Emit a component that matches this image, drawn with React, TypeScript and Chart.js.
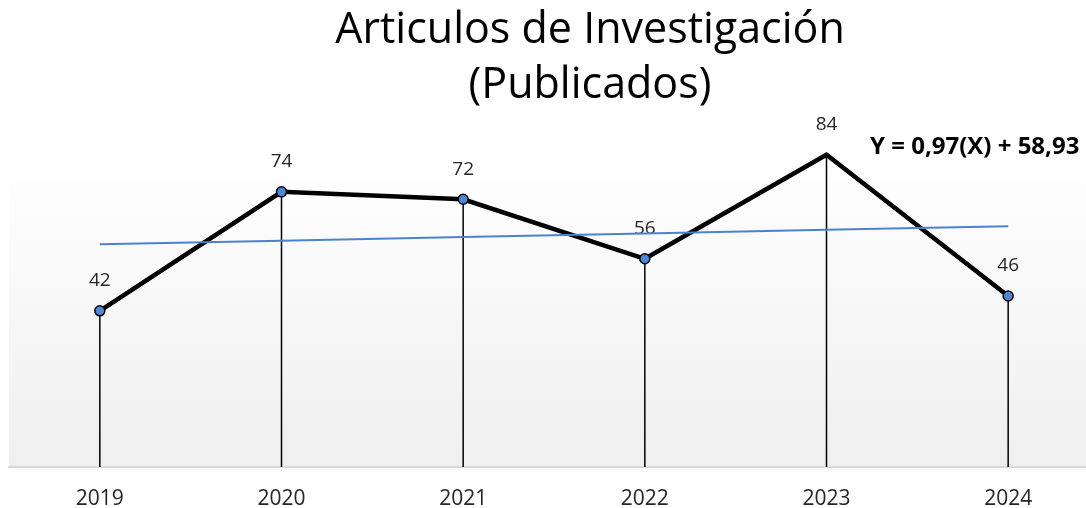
import React, { useEffect, useRef } from "react";
import { Chart, registerables } from "chart.js";

Chart.register(...registerables);

const YEARS = ["2019", "2020", "2021", "2022", "2023", "2024"];
const ARTICLES = [42, 74, 72, 56, 84, 46];
const TREND = [59.9, 60.87, 61.84, 62.81, 63.78, 64.75];
const TITLE_LINES = ["Articulos de Investigación", "(Publicados)"];
const EQUATION = "Y = 0,97(X) + 58,93";
const Y_MIN = 0;
const Y_MAX = 78;

const FONT = "'Open Sans', 'Noto Sans', sans-serif";
const CANVAS_W = 1180;
const CANVAS_H = 508;

const bgPlugin = {
  id: "bgGradient",
  beforeDraw(chart: any) {
    const { ctx, chartArea } = chart;
    const g = ctx.createLinearGradient(0, chartArea.top, 0, chartArea.bottom);
    g.addColorStop(0, "#fefefe");
    g.addColorStop(1, "#efefef");
    ctx.save();
    ctx.fillStyle = g;
    ctx.fillRect(chartArea.left, chartArea.top, chartArea.right - chartArea.left, chartArea.bottom - chartArea.top);
    ctx.restore();
  },
};

const dropLinesPlugin = {
  id: "dropLines",
  beforeDatasetsDraw(chart: any) {
    const { ctx, chartArea } = chart;
    const meta = chart.getDatasetMeta(0);
    ctx.save();
    ctx.strokeStyle = "#000000";
    ctx.lineWidth = 1.5;
    meta.data.forEach((pt: any) => {
      ctx.beginPath();
      ctx.moveTo(pt.x, pt.y);
      ctx.lineTo(pt.x, chartArea.bottom);
      ctx.stroke();
    });
    ctx.restore();
  },
};

const labelsPlugin = {
  id: "pointLabels",
  afterDatasetDraw(chart: any, args: any) {
    if (args.index !== 0) return;
    const { ctx } = chart;
    const meta = chart.getDatasetMeta(0);
    ctx.save();
    ctx.fillStyle = "#262626";
    ctx.font = `19px ${FONT}`;
    ctx.textAlign = "center";
    ctx.textBaseline = "middle";
    meta.data.forEach((pt: any, i: number) => {
      ctx.fillText(String(ARTICLES[i]), pt.x, pt.y - 30);
    });
    ctx.restore();
  },
};

const textPlugin = {
  id: "titleAndEquation",
  afterDraw(chart: any) {
    const { ctx, width } = chart;
    ctx.save();
    ctx.fillStyle = "#000000";
    ctx.textAlign = "center";
    ctx.textBaseline = "alphabetic";
    ctx.font = `43px ${FONT}`;
    ctx.fillText(TITLE_LINES[0], width / 2, 43);
    ctx.fillText(TITLE_LINES[1], width / 2, 98);
    ctx.font = `bold 24px ${FONT}`;
    ctx.textAlign = "left";
    ctx.textBaseline = "middle";
    ctx.fillText(EQUATION, 870, 147);
    ctx.restore();
  },
};

export default function App() {
  const ref = useRef<HTMLCanvasElement | null>(null);

  useEffect(() => {
    if (!ref.current) return;
    const chart = new Chart(ref.current, {
      type: "line",
      data: {
        labels: YEARS,
        datasets: [
          {
            label: "Articulos",
            data: ARTICLES,
            borderColor: "#000000",
            borderWidth: 4.5,
            pointRadius: 5,
            pointBackgroundColor: "#4f86d6",
            pointBorderColor: "#000000",
            pointBorderWidth: 1.5,
            tension: 0,
            clip: false as any,
            order: 2,
          },
          {
            label: "Tendencia",
            data: TREND,
            borderColor: "#4a82d0",
            borderWidth: 2,
            pointRadius: 0,
            tension: 0,
            clip: false as any,
            order: 1,
          },
        ],
      },
      options: {
        responsive: false,
        animation: false,
        devicePixelRatio: 1,
        layout: { padding: { top: 177, left: 9, right: 81, bottom: 0 } },
        plugins: {
          legend: { display: false },
          title: { display: false },
          tooltip: { enabled: false },
        },
        scales: {
          x: {
            type: "category",
            offset: true,
            grid: { display: false, drawTicks: false },
            border: { display: true, color: "#d9d9d9", width: 2 },
            ticks: {
              color: "#262626",
              font: { family: FONT, size: 21 },
              padding: 19,
            },
            afterFit(scale: any) {
              scale.height = 41;
            },
          },
          y: {
            display: false,
            min: Y_MIN,
            max: Y_MAX,
          },
        },
      },
      plugins: [bgPlugin, dropLinesPlugin, labelsPlugin, textPlugin],
    });
    return () => chart.destroy();
  }, []);

  return (
    <div style={{ position: "absolute", left: 0, top: 0, width: 1086, height: 508, overflow: "hidden", background: "#ffffff" }}>
      <canvas ref={ref} width={CANVAS_W} height={CANVAS_H} style={{ width: CANVAS_W, height: CANVAS_H, display: "block" }} />
    </div>
  );
}
